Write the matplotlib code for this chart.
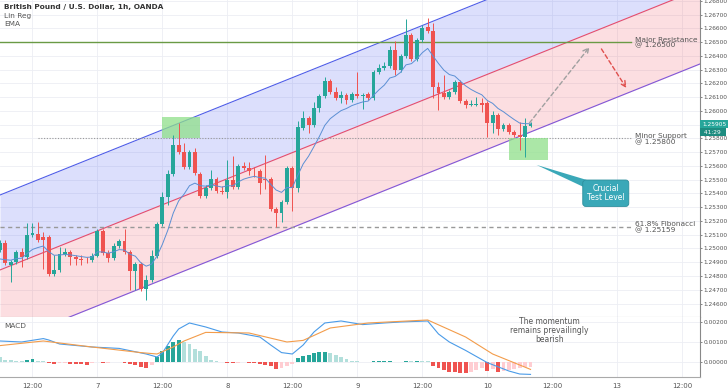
import matplotlib
matplotlib.use('Agg')
import matplotlib.pyplot as plt
import matplotlib.transforms as mtrans
from matplotlib.patches import Polygon
import numpy as np

# hour index, 0 = 12:00 on the 6th
hours = np.arange(-6, 93)

opens = [1.24989, 1.25040, 1.24881, 1.24902, 1.24975, 1.24939, 1.25099, 1.25106, 1.25084, 1.25084,
         1.24815, 1.24844, 1.24960, 1.24975, 1.24939, 1.24924, 1.24917, 1.24917, 1.24946, 1.25128,
         1.24968, 1.24932, 1.25018, 1.25055, 1.24975, 1.24837, 1.24888, 1.24706, 1.24771, 1.24946,
         1.25178, 1.25375, 1.25542, 1.25753, 1.25702, 1.25592, 1.25702, 1.25542, 1.25382, 1.25440,
         1.25506, 1.25419, 1.25412, 1.25499, 1.25448, 1.25599, 1.25585, 1.25564, 1.25564, 1.25506,
         1.25506, 1.25288, 1.25258, 1.25339, 1.25585, 1.25440, 1.25876, 1.25949, 1.25898, 1.26022,
         1.26109, 1.26218, 1.26138, 1.26095, 1.26116, 1.26080, 1.26124, 1.26109, 1.26124, 1.26095,
         1.26284, 1.26313, 1.26327, 1.26444, 1.26298, 1.26401, 1.26553, 1.26378, 1.26516, 1.26611,
         1.26582, 1.26174, 1.26131, 1.26102, 1.26138, 1.26211, 1.26073, 1.26044, 1.26044, 1.26059,
         1.26059, 1.25913, 1.25971, 1.25869, 1.25898, 1.25848, 1.25826, 1.25811, 1.25891]
highs = [1.25062, 1.25062, 1.24917, 1.24989, 1.25004, 1.25186, 1.25186, 1.25193, 1.25120, 1.25099,
         1.24953, 1.25011, 1.25004, 1.24989, 1.24953, 1.24953, 1.24939, 1.24968, 1.25142, 1.25142,
         1.24989, 1.25040, 1.25070, 1.25142, 1.24989, 1.24902, 1.24902, 1.24808, 1.24989, 1.25193,
         1.25412, 1.25571, 1.25826, 1.25913, 1.25767, 1.25716, 1.25731, 1.25557, 1.25462, 1.25571,
         1.25520, 1.25455, 1.25644, 1.25673, 1.25614, 1.25629, 1.25629, 1.25592, 1.25578, 1.25680,
         1.25520, 1.25302, 1.25353, 1.25599, 1.25599, 1.25927, 1.26000, 1.25964, 1.26066, 1.26124,
         1.26247, 1.26233, 1.26174, 1.26145, 1.26131, 1.26138, 1.26284, 1.26131, 1.26138, 1.26298,
         1.26342, 1.26356, 1.26473, 1.26509, 1.26415, 1.26669, 1.26567, 1.26531, 1.26625, 1.26676,
         1.26640, 1.26211, 1.26262, 1.26153, 1.26225, 1.26225, 1.26088, 1.26080, 1.26102, 1.26095,
         1.26073, 1.26000, 1.25986, 1.25913, 1.25913, 1.25862, 1.25920, 1.25949, 1.25920]
lows = [1.24975, 1.24881, 1.24757, 1.24888, 1.24866, 1.24924, 1.25084, 1.25048, 1.24850, 1.24801,
        1.24801, 1.24830, 1.24946, 1.24881, 1.24881, 1.24881, 1.24895, 1.24902, 1.24939, 1.24953,
        1.24902, 1.24917, 1.25004, 1.24960, 1.24699, 1.24699, 1.24691, 1.24626, 1.24757, 1.24932,
        1.25164, 1.25317, 1.25528, 1.25687, 1.25578, 1.25578, 1.25535, 1.25368, 1.25368, 1.25426,
        1.25405, 1.25397, 1.25368, 1.25433, 1.25433, 1.25571, 1.25535, 1.25520, 1.25397, 1.25433,
        1.25273, 1.25157, 1.25193, 1.25324, 1.25273, 1.25412, 1.25862, 1.25840, 1.25884, 1.25993,
        1.26095, 1.26124, 1.26080, 1.26059, 1.26052, 1.26066, 1.26095, 1.26015, 1.26080, 1.26080,
        1.26269, 1.26298, 1.26313, 1.26262, 1.26284, 1.26386, 1.26364, 1.26364, 1.26502, 1.26567,
        1.26095, 1.26007, 1.26088, 1.26088, 1.26124, 1.26059, 1.26022, 1.26037, 1.26037, 1.25993,
        1.25811, 1.25840, 1.25826, 1.25855, 1.25833, 1.25811, 1.25716, 1.25666, 1.25884]
closes = [1.25040, 1.24895, 1.24902, 1.24975, 1.24939, 1.25099, 1.25113, 1.25062, 1.25062, 1.24815,
          1.24844, 1.24960, 1.24975, 1.24939, 1.24924, 1.24917, 1.24913, 1.24946, 1.25128, 1.24968,
          1.24932, 1.25018, 1.25055, 1.24975, 1.24837, 1.24888, 1.24706, 1.24771, 1.24946, 1.25178,
          1.25375, 1.25542, 1.25753, 1.25702, 1.25592, 1.25702, 1.25550, 1.25382, 1.25440, 1.25506,
          1.25419, 1.25412, 1.25499, 1.25448, 1.25599, 1.25585, 1.25564, 1.25560, 1.25477, 1.25499,
          1.25288, 1.25258, 1.25339, 1.25585, 1.25440, 1.25884, 1.25949, 1.25898, 1.26022, 1.26109,
          1.26218, 1.26138, 1.26095, 1.26116, 1.26080, 1.26124, 1.26109, 1.26116, 1.26095, 1.26284,
          1.26313, 1.26327, 1.26444, 1.26298, 1.26401, 1.26553, 1.26378, 1.26516, 1.26603, 1.26582,
          1.26174, 1.26131, 1.26102, 1.26138, 1.26211, 1.26073, 1.26044, 1.26052, 1.26052, 1.26044,
          1.25913, 1.25971, 1.25869, 1.25898, 1.25848, 1.25826, 1.25811, 1.25891, 1.25905]
ema_seed = 1.24895

# MACD histogram in units of 1e-5
macd_hist = [25, 11, 8, 7, 6, 11, 14, 7, 3, -6, -8, -4, -3, -10, -11, -12, -13, -6, -1, -6,
             -4, -1, -1, -6, -11, -17, -25, -28, -13, 25, 53, 81, 102, 109, 102, 88, 67, 53, 32, 11,
             4, 1, -6, -7, -3, -1, -6, -7, -11, -14, -20, -34, -31, -20, -10, 18, 28, 35, 43, 48,
             50, 45, 35, 25, 15, 7, 3, 1, 0, 3, 4, 5, 6, 1, 1, 7, 3, 4, 4, 3,
             -20, -32, -42, -48, -52, -55, -56, -50, -42, -30, -45, -36, -52, -44, -38, -33, -30, -27, -25]
macd_t = [-6, -2, 2, 3, 5, 11, 16, 21, 23, 24, 26, 27, 29, 32, 35, 38, 42, 44, 46, 48, 50, 52, 54,
          57, 61, 65, 68, 73, 75, 77, 80, 84, 88, 90, 92]
macd_line = [0.00105, 0.00100, 0.00117, 0.00110, 0.00090, 0.00075, 0.00068, 0.00040, 0.00025, 0.00045,
             0.00130, 0.00165, 0.00195, 0.00175, 0.00150, 0.00145, 0.00125, 0.00085, 0.00047, 0.00040,
             0.00085, 0.00150, 0.00195, 0.00205, 0.00187, 0.00195, 0.00200, 0.00205, 0.00140, 0.00100,
             0.00058, -0.00003, -0.00045, -0.00060, -0.00062]
signal_t = [-6, 2, 11, 20, 23, 26, 28, 32, 40, 47, 50, 55, 62, 73, 80, 85, 92]
signal_line = [0.00082, 0.00105, 0.00075, 0.00047, 0.00040, 0.00075, 0.00105, 0.00148, 0.00145, 0.00100,
               0.00108, 0.00170, 0.00195, 0.00210, 0.00125, 0.00040, -0.00037]

# linear regression channel
lr_t = [-6, 123.3]
lr_mid = [1.24844, 1.26887]
lr_dev = 0.00545

levels = [1.26500, 1.25800, 1.25159]
level_labels = ['Major Resistance\n@ 1.26500', 'Minor Support\n@ 1.25800', '61.8% Fibonacci\n@ 1.25159']

tick_pos = [0, 12, 24, 36, 48, 60, 72, 84, 96, 108, 120]
tick_lab = ['12:00', '7', '12:00', '8', '12:00', '9', '12:00', '10', '12:00', '13', '12:00']

UP = '#26a69a'
DN = '#ef5350'
TXT = '#555555'
GRID = '#eceef4'

opens = np.array(opens); closes = np.array(closes)
highs = np.array(highs); lows = np.array(lows)

fig = plt.figure(figsize=(7.28, 3.91), dpi=100)
ax = fig.add_axes([0, 0.1893, 0.9615, 0.8107])
axm = fig.add_axes([0, 0.0358, 0.9615, 0.1535], sharex=ax)

for a in (ax, axm):
    a.set_xticks(tick_pos)
    a.grid(True, color=GRID, lw=0.6, zorder=0)
    a.set_axisbelow(True)
    for s in ('top', 'left'):
        a.spines[s].set_visible(False)
    a.spines['right'].set_color('#888888')
    a.spines['bottom'].set_color('#aaaaaa')
    a.yaxis.tick_right()
    a.tick_params(axis='y', labelsize=4.2, colors=TXT, length=1.5, width=0.5, pad=1)
    a.tick_params(axis='x', labelsize=5, colors=TXT, length=0, pad=4)

# channel
lt = np.array(lr_t); lm = np.array(lr_mid)
ax.fill_between(lt, lm, lm + lr_dev, color='#3344f0', alpha=0.17, lw=0, zorder=1)
ax.fill_between(lt, lm - lr_dev, lm, color='#f23645', alpha=0.16, lw=0, zorder=1)
ax.plot(lt, lm + lr_dev, color='#4f5de8', lw=0.8, zorder=2)
ax.plot(lt, lm, color='#e84d6b', lw=0.8, zorder=2)
ax.plot(lt, lm - lr_dev, color='#8157d8', lw=0.8, zorder=2)

# levels
ax.plot([-6, 110.6], [levels[0]] * 2, color='#6a9a45', lw=1.0, zorder=3)
ax.plot([1, 110.6], [levels[1]] * 2, color='#999999', lw=0.8, ls=(0, (1, 1.5)), zorder=3)
ax.plot([-6, 110.6], [levels[2]] * 2, color='#999999', lw=1.0, ls=(0, (3, 2.5)), zorder=3)
for lv, lb in zip(levels, level_labels):
    ax.text(111.3, lv - 0.00003, lb, fontsize=5.3, color=TXT, va='center', ha='left',
            linespacing=0.95, zorder=6)

# green boxes
ax.fill_between([24, 31], 1.25800, 1.25953, color='#8fe08a', alpha=0.75, lw=0, zorder=3)
ax.fill_between([88, 95.2], 1.25647, 1.25800, color='#8fe08a', alpha=0.75, lw=0, zorder=3)

# candles
up = closes >= opens
cols = np.where(up, UP, DN)
body_lo = np.minimum(opens, closes)
body_h = np.maximum(np.abs(closes - opens), 0.000015)
ax.vlines(hours, lows, highs, colors=cols, lw=0.7, zorder=4)
ax.bar(hours, body_h, 0.72, bottom=body_lo, color=cols, lw=0, zorder=5)

# EMA 9
ema = []
e = ema_seed
for c in closes:
    e = e + 2.0 / 10 * (c - e)
    ema.append(e)
ax.plot(hours, ema, color='#5b8fd4', lw=0.7, zorder=5)

# projection arrows
ax.annotate('', xy=(102.9, 1.26465), xytext=(91.8, 1.25913),
            arrowprops=dict(arrowstyle='->', color='#a0a0a0', lw=1.0, ls=(0, (3, 2)),
                            shrinkA=0, shrinkB=0), zorder=6)
ax.annotate('', xy=(109.7, 1.26167), xytext=(105.1, 1.26451),
            arrowprops=dict(arrowstyle='->', color='#e0504e', lw=1.0, ls=(0, (3, 2)),
                            shrinkA=0, shrinkB=0), zorder=6)

# callout
teal = '#3aa8b8'
ax.add_patch(Polygon([(93.1, 1.25608), (103.6, 1.25484), (102.2, 1.25440)],
                     closed=True, color=teal, lw=0, zorder=6))
ax.text(105.9, 1.25402, 'Crucial\nTest Level', fontsize=5.5, color='white', ha='center', va='center',
        linespacing=1.0, zorder=7,
        bbox=dict(boxstyle='round,pad=0.55,rounding_size=0.4', fc=teal, ec='#2c8e9c', lw=0.6))

ax.set_xlim(-6.0, 123.3)
ax.set_ylim(1.24502, 1.26807)
ax.set_yticks(np.arange(1.246, 1.2685, 0.001))
# the last-price tag hides the 1.25900 label
ax.yaxis.set_major_formatter(matplotlib.ticker.FuncFormatter(
    lambda v, p: '' if abs(v - 1.259) < 1e-6 else '%.5f' % v))
plt.setp(ax.get_xticklabels(), visible=False)

# last price tag
bt = mtrans.blended_transform_factory(ax.transAxes, ax.transData)
ax.text(1.003, closes[-1], '1.25905', transform=bt, fontsize=4.2, color='white', ha='left', va='center',
        bbox=dict(fc=UP, ec='none', pad=1.2), zorder=8, clip_on=False)
ax.text(1.003, closes[-1] - 0.00058, ' 41:29  ', transform=bt, fontsize=4.2, color='white', ha='left',
        va='center', bbox=dict(fc='#1e8c80', ec='none', pad=1.2), zorder=8, clip_on=False)

# header
fig.text(4 / 728, 1 - 7 / 391, 'British Pound / U.S. Dollar, 1h, OANDA', fontsize=5.3, color='#333333',
         fontweight='bold', va='center')
fig.text(4 / 728, 1 - 16 / 391, 'Lin Reg', fontsize=5.3, color=TXT, va='center')
fig.text(4 / 728, 1 - 24 / 391, 'EMA', fontsize=5.3, color=TXT, va='center')

# MACD pane
hist = np.array(macd_hist) * 1e-5
hcols = []
for i, h in enumerate(hist):
    prev = hist[i - 1] if i > 0 else h
    if h >= 0:
        hcols.append('#26a69a' if h > prev else '#b2dfdb')
    else:
        hcols.append('#ef5350' if h < prev else '#ffcdd2')
axm.bar(hours, hist, 0.72, color=hcols, lw=0, zorder=2)
axm.plot(macd_t, macd_line, color='#4a9be8', lw=0.8, zorder=3)
axm.plot(signal_t, signal_line, color='#f39c4a', lw=0.8, zorder=3)
axm.set_ylim(-0.00075, 0.00225)
axm.set_yticks([0.0, 0.001, 0.002])
axm.yaxis.set_major_formatter(matplotlib.ticker.FormatStrFormatter('%.5f'))
axm.set_xticklabels(tick_lab)
axm.text(0.006, 0.85, 'MACD', transform=axm.transAxes, fontsize=5.3, color=TXT, va='center')
axm.text(95.5, 0.00155, 'The momentum\nremains prevailingly\nbearish', fontsize=5.5, color=TXT,
         ha='center', va='center', linespacing=1.0)

fig.savefig('out.png', dpi=100, facecolor='white')
